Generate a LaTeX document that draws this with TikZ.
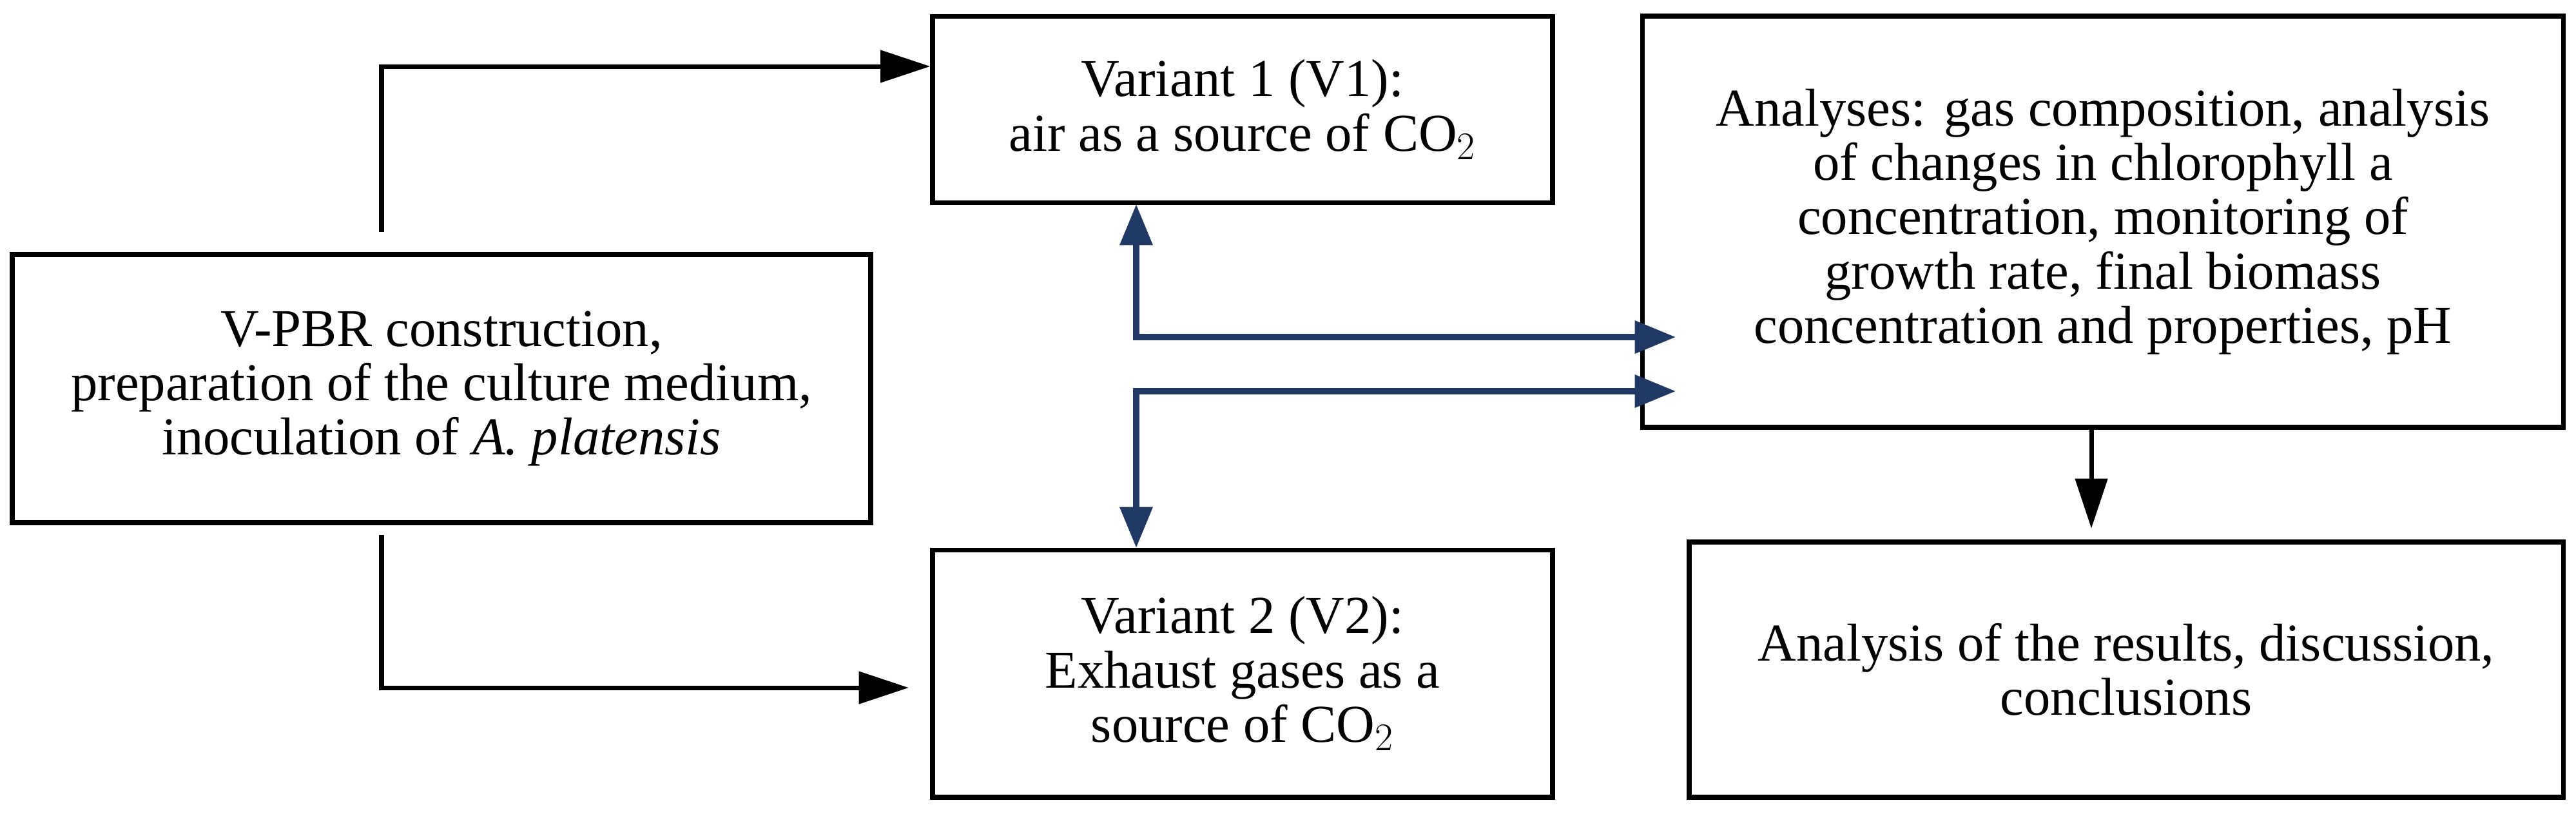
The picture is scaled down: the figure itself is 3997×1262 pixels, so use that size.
\documentclass[tikz,border=0pt]{standalone}
\usepackage{fontspec}
\setmainfont{Liberation Serif}
\usetikzlibrary{arrows.meta}
\definecolor{navy}{RGB}{31,56,100}
\begin{document}
\begin{tikzpicture}[x=0.01cm,y=-0.01cm,
  box/.style={draw,line width=2.2pt,align=center,inner sep=0pt,font=\fontsize{23.5}{24}\selectfont},
  blk/.style={line width=2pt,-{Triangle[length=22pt,width=14pt]}},
  nav/.style={line width=2.6pt,draw=navy,{Triangle[length=18pt,width=14pt]}-{Triangle[length=18pt,width=14pt]}}]
\useasboundingbox (0,0) rectangle (3997,1262);
\node[box,minimum width=13.31cm,minimum height=4.16cm] (L) at (685,603) {V-PBR construction,\\preparation of the culture medium,\\inoculation of \textit{A. platensis}};
\node[box,minimum width=9.61cm,minimum height=2.89cm] (V1) at (1928,170) {Variant 1 (V1):\\air as a source of CO$_2$};
\node[box,minimum width=9.61cm,minimum height=3.83cm] (V2) at (1928,1045) {Variant 2 (V2):\\Exhaust gases as a\\source of CO$_2$};
\node[box,minimum width=14.28cm,minimum height=6.38cm] (A) at (3263,344) {Analyses: gas composition, analysis\\of changes in chlorophyll a\\concentration, monitoring of\\growth rate, final biomass\\concentration and properties, pH};
\node[box,minimum width=13.56cm,minimum height=3.96cm] (R) at (3299,1039) {Analysis of the results, discussion,\\conclusions};
\coordinate (t1) at (592,360);
\coordinate (t2) at (592,830);
\coordinate (e2) at (1410,1067);
\draw[blk] (t1) |- (V1.west |- 0,103);
\draw[blk] (t2) |- (e2);
\draw[nav] (1763,317) |- (2600,523);
\draw[nav] (1763,850) |- (2600,607);
\draw[blk] (A.south -| 3245,0) -- (3245,820);
\end{tikzpicture}
\end{document}
